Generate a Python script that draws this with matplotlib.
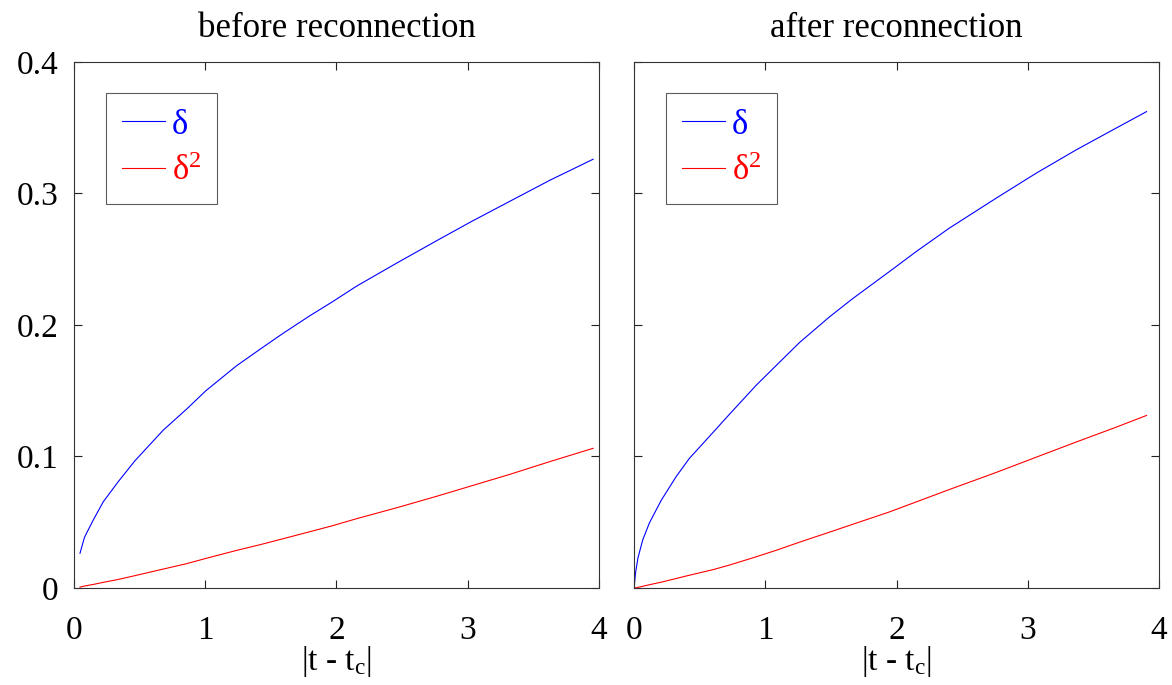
import matplotlib
matplotlib.use("Agg")
import numpy as np
from matplotlib import pyplot as plt

plt.rcParams["font.family"] = ["Liberation Serif", "DejaVu Serif"]
plt.rcParams["mathtext.fontset"] = "custom"
plt.rcParams["mathtext.rm"] = "Liberation Serif"
plt.rcParams["mathtext.it"] = "Liberation Serif"
plt.rcParams["savefig.dpi"] = 100

# before reconnection: |t - tc| samples and measured delta, delta^2
t_before = [0.046, 0.08, 0.147, 0.223, 0.337, 0.465, 0.68, 0.858, 1.005, 1.239, 1.417,
            1.594, 1.797, 1.975, 2.153, 2.458, 2.762, 3.016, 3.32, 3.625, 3.955]
delta_before = [0.0264, 0.0385, 0.0517, 0.0655, 0.0808, 0.0968, 0.1200, 0.1360, 0.150, 0.1690, 0.1815,
                0.1937, 0.2070, 0.2180, 0.2295, 0.2470, 0.2640, 0.2780, 0.2940, 0.3100, 0.326]
delta2_before = [0.0007, 0.0015, 0.0027, 0.0043, 0.0065, 0.0094, 0.0144, 0.0185, 0.0225, 0.0286, 0.0329,
                 0.0375, 0.0428, 0.0475, 0.0527, 0.0610, 0.0697, 0.0773, 0.0864, 0.0961, 0.1062]

# after reconnection
t_after = [0.0, 0.012, 0.03, 0.066, 0.117, 0.206, 0.32, 0.421, 0.599, 0.726, 0.929, 1.081,
           1.259, 1.487, 1.665, 1.944, 2.148, 2.40, 2.757, 3.062, 3.366, 3.671, 3.904]
delta_after = [0.0, 0.0120, 0.0230, 0.0365, 0.0495, 0.0665, 0.0846, 0.0985, 0.1180, 0.1320, 0.1540, 0.1690,
               0.1865, 0.2060, 0.2200, 0.2405, 0.2557, 0.2735, 0.2963, 0.3153, 0.333, 0.3496, 0.3622]
delta2_after = [0.0, 0.0001, 0.0005, 0.0013, 0.0025, 0.0044, 0.0072, 0.0097, 0.0139, 0.0174, 0.0237, 0.0286,
                0.0348, 0.0424, 0.0484, 0.0578, 0.0654, 0.0748, 0.0878, 0.0994, 0.1109, 0.1222, 0.1312]

panels = [
    ("before reconnection", t_before, delta_before, delta2_before),
    ("after reconnection", t_after, delta_after, delta2_after),
]

fig = plt.figure(figsize=(11.72, 6.85))
lefts = [0.0631, 0.541]
axes = []
for i, (title, t, d, d2) in enumerate(panels):
    ax = fig.add_axes([lefts[i], 0.1416, 0.448, 0.768])
    ax.plot(t, d, color="#0000ff", lw=0.8, label=r"δ")
    ax.plot(t, d2, color="#ff0000", lw=0.8, label=r"δ$^2$")
    ax.set_xlim(0, 4)
    ax.set_ylim(0, 0.4)
    ax.set_xticks([0, 1, 2, 3, 4])
    ax.set_yticks([0, 0.1, 0.2, 0.3, 0.4])
    ax.set_xticklabels(["0", "1", "2", "3", "4"])
    if i == 0:
        ax.set_yticklabels(["0", "0.1", "0.2", "0.3", "0.4"])
    else:
        ax.set_yticklabels([])
    ax.tick_params(direction="in", top=True, right=True, length=5.5, width=0.8,
                   labelsize=24, color="#222222")
    ax.tick_params(axis="x", pad=20)
    ax.tick_params(axis="y", pad=11)
    for s in ax.spines.values():
        s.set_linewidth(0.8)
        s.set_color("#333333")
    ax.set_title(title, fontsize=25, pad=18)
    ax.set_xlabel(r"|t - t$_\mathrm{c}$|", fontsize=24, labelpad=-2)
    leg = ax.legend(loc="upper left", bbox_to_anchor=(0.061, 0.941), borderaxespad=0,
                    fontsize=25, frameon=True, fancybox=False, handlelength=1.25,
                    handletextpad=0.2, labelspacing=0.4, borderpad=0.45)
    leg.get_frame().set_edgecolor("#333333")
    leg.get_frame().set_linewidth(0.8)
    for txt, ln in zip(leg.get_texts(), leg.get_lines()):
        txt.set_color(ln.get_color())
    axes.append(ax)

fig.savefig("out.png")
